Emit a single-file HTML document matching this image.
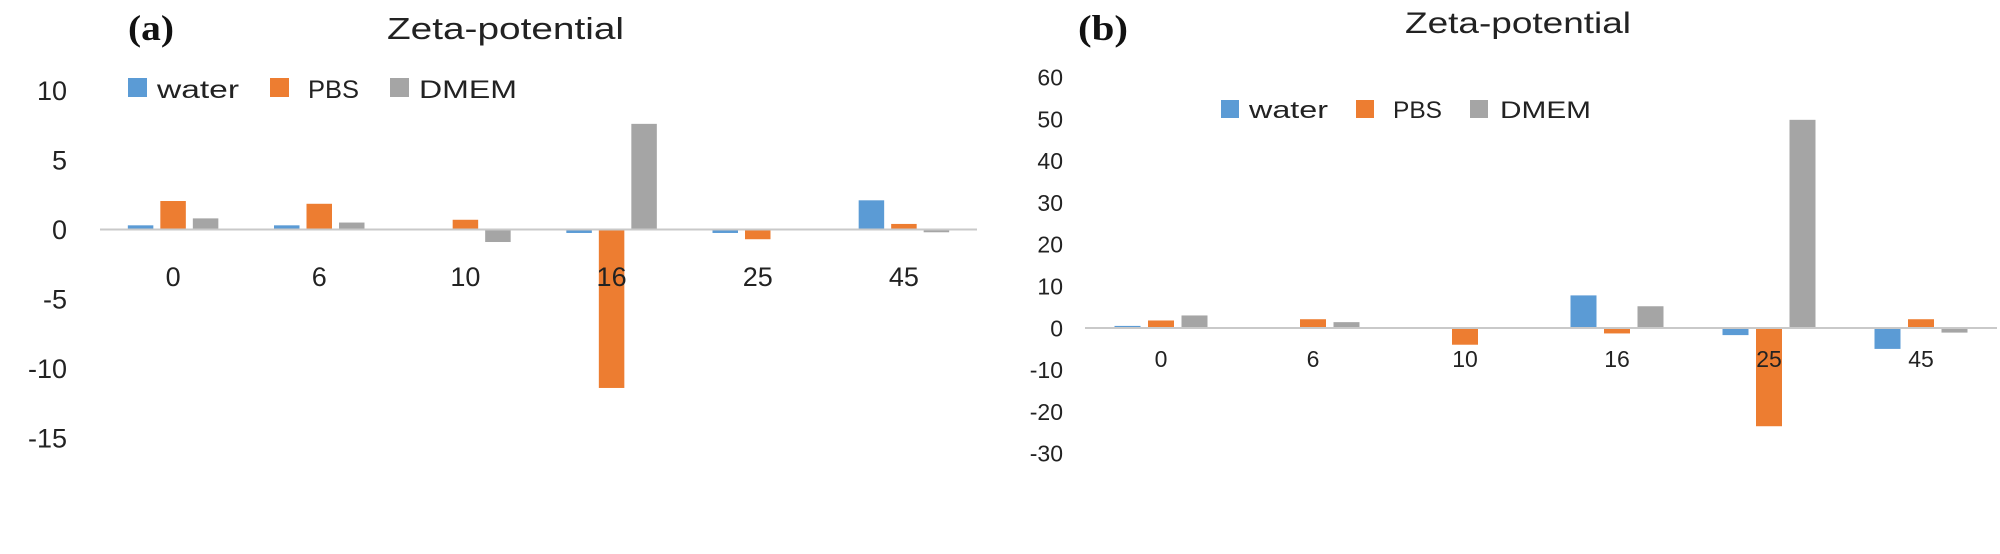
<!DOCTYPE html>
<html><head><meta charset="utf-8">
<style>
html,body{margin:0;padding:0;background:#fff;}
svg{display:block;}
text{font-family:"Liberation Sans",sans-serif;fill:#222;}
.lbl{font-family:"Liberation Serif",serif;font-weight:bold;fill:#111;}
</style></head>
<body>
<svg id="chart" width="2000" height="554" viewBox="0 0 2000 554" xmlns="http://www.w3.org/2000/svg">
  <rect width="2000" height="554" fill="#fff"/>
  <text class="lbl" x="128" y="40" font-size="36" textLength="46" lengthAdjust="spacingAndGlyphs">(a)</text>
  <text x="387" y="39" font-size="31" textLength="237" lengthAdjust="spacingAndGlyphs">Zeta-potential</text>
  <rect x="128" y="78" width="19" height="19" fill="#5b9bd5"/>
  <text x="157" y="98" font-size="25" textLength="82" lengthAdjust="spacingAndGlyphs">water</text>
  <rect x="270" y="78" width="19" height="19" fill="#ed7d31"/>
  <text x="308" y="98" font-size="25" textLength="51" lengthAdjust="spacingAndGlyphs">PBS</text>
  <rect x="390" y="78" width="19" height="19" fill="#a5a5a5"/>
  <text x="419" y="98" font-size="25" textLength="98" lengthAdjust="spacingAndGlyphs">DMEM</text>
  <text class="lbl" x="1078" y="40" font-size="36" textLength="50" lengthAdjust="spacingAndGlyphs">(b)</text>
  <text x="1405" y="33" font-size="30" textLength="226" lengthAdjust="spacingAndGlyphs">Zeta-potential</text>
  <rect x="1221" y="100" width="18" height="18" fill="#5b9bd5"/>
  <text x="1249" y="118" font-size="24" textLength="79" lengthAdjust="spacingAndGlyphs">water</text>
  <rect x="1356" y="100" width="18" height="18" fill="#ed7d31"/>
  <text x="1393" y="118" font-size="24" textLength="49" lengthAdjust="spacingAndGlyphs">PBS</text>
  <rect x="1470" y="100" width="18" height="18" fill="#a5a5a5"/>
  <text x="1500" y="118" font-size="24" textLength="91" lengthAdjust="spacingAndGlyphs">DMEM</text>
  <g id="plots"></g>
</svg>
<script>
const categories = ["0", "6", "10", "16", "25", "45"];
const seriesNames = ["water", "PBS", "DMEM"];
const aWater = [0.3, 0.3, 0, -0.25, -0.25, 2.1];
const aPBS = [2.05, 1.85, 0.7, -11.4, -0.7, 0.4];
const aDMEM = [0.8, 0.5, -0.9, 7.6, 0, -0.2];
const aTicks = [10, 5, 0, -5, -10, -15];
const bWater = [0.5, 0, 0, 7.8, -1.7, -5.0];
const bPBS = [1.8, 2.1, -4.0, -1.3, -23.5, 2.1];
const bDMEM = [3.0, 1.4, 0, 5.2, 49.8, -1.1];
const bTicks = [60, 50, 40, 30, 20, 10, 0, -10, -20, -30];

const colors = ["#5b9bd5", "#ed7d31", "#a5a5a5"];
const NS = "http://www.w3.org/2000/svg";
const root = document.getElementById("plots");

function mk(tag, attrs, parent) {
  const e = document.createElementNS(NS, tag);
  for (const k in attrs) e.setAttribute(k, attrs[k]);
  parent.appendChild(e);
  return e;
}

function drawPanel(cfg) {
  const g = mk("g", {}, root);
  
  
  const y = v => cfg.zeroY - v * cfg.pxPerUnit;
  const step = (cfg.x1 - cfg.x0) / categories.length;
  const cx = i => cfg.x0 + step * (i + 0.5);
  cfg.ticks.forEach(t => {
    const tx = mk("text", {x: cfg.tickX, y: y(t) + cfg.tickFont * 0.36, "font-size": cfg.tickFont, "text-anchor": "end"}, g);
    
    
    tx.textContent = t;
  });
  cfg.series.forEach((vals, s) => {
    vals.forEach((v, i) => {
      const bx = cx(i) + (s - 1) * cfg.barStep - cfg.barW / 2;
      const top = Math.min(y(v), y(0)), h = Math.abs(y(v) - y(0));
      const r = mk("rect", {x: bx, y: top, width: cfg.barW, height: Math.max(h, 0), fill: colors[s]}, g);
      
      
    });
  });
  const ax = mk("line", {x1: cfg.x0, x2: cfg.x1, y1: y(0), y2: y(0), stroke: "#c9c9c9", "stroke-width": 2}, g);
  
  
  categories.forEach((c, i) => {
    const tx = mk("text", {x: cx(i), y: cfg.catY, "font-size": cfg.tickFont, "text-anchor": "middle"}, g);
    
    
    tx.textContent = c;
  });
}

drawPanel({id: "panel-a", zeroY: 229.5, pxPerUnit: 13.9, x0: 100, x1: 977, tickX: 67, tickFont: 27,
  catY: 286, barW: 25.5, barStep: 32.5, ticks: aTicks, series: [aWater, aPBS, aDMEM]});
drawPanel({id: "panel-b", zeroY: 328, pxPerUnit: 4.18, x0: 1085, x1: 1997, tickX: 1063, tickFont: 23,
  catY: 367, barW: 26, barStep: 33.5, ticks: bTicks, series: [bWater, bPBS, bDMEM]});
</script>
</body></html>
